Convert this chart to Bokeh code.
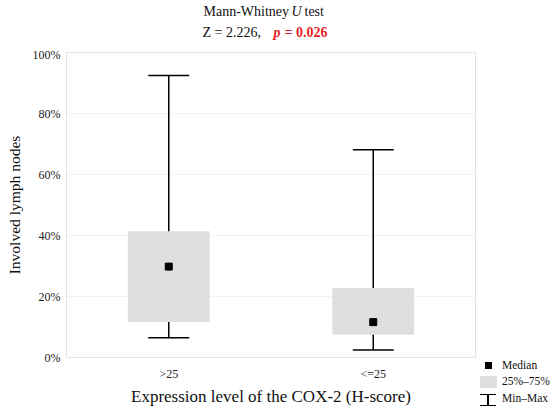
from bokeh.plotting import figure
from bokeh.layouts import column, row
from bokeh.models import ColumnDataSource, FixedTicker, PrintfTickFormatter, Range1d, Div
from bokeh.core.properties import value
from bokeh.embed import file_html
from bokeh.resources import INLINE

categories = [">25", "<=25"]
q_min = [6.5, 2.5]
q1 = [11.6, 7.5]
median = [29.8, 11.6]
q3 = [41.4, 22.8]
q_max = [92.5, 68.1]
y_ticks = [0, 20, 40, 60, 80, 100]

title_line1 = ["Mann-Whitney", "U", "test"]
title_line2 = ["Z = 2.226,", "p", "= 0.026"]
legend_labels = ["Median", "25%\u201375%", "Min\u2013Max"]

FONT = "Liberation Serif"
RED = "#e41e26"
BOX_GRAY = "#dedede"
pos = [i + 1 for i in range(len(categories))]

# ---------- title strip (coordinates = page pixels) ----------
t = figure(width=550, height=47, output_backend="svg", toolbar_location=None,
           x_range=Range1d(0, 550), y_range=Range1d(47, 0),
           x_axis_type=None, y_axis_type=None,
           min_border_left=0, min_border_right=0, min_border_top=0, min_border_bottom=0)
t.outline_line_color = None
t.xgrid.grid_line_color = None
t.ygrid.grid_line_color = None
t.text(x=[203, 291, 304], y=[11, 11, 11], text=title_line1,
       text_font=value(FONT), text_font_size="14px", text_color="#111111",
       text_font_style=["normal", "italic", "normal"], text_baseline="middle", text_align="left")
t.text(x=[202], y=[32], text=[title_line2[0]],
       text_font=value(FONT), text_font_size="14px", text_color="#111111",
       text_baseline="middle", text_align="left")
t.text(x=[273, 284], y=[32, 32], text=title_line2[1:],
       text_font=value(FONT), text_font_size="14px", text_color=RED,
       text_font_style=["bold italic", "bold"], text_baseline="middle", text_align="left")

# ---------- main box plot ----------
src = ColumnDataSource(dict(x=pos, q_min=q_min, q1=q1, med=median, q3=q3, q_max=q_max,
                            cl=[x - 0.1 for x in pos], cr=[x + 0.1 for x in pos]))

p = figure(width=476, height=365, output_backend="svg", toolbar_location=None,
           x_range=Range1d(0.5, 2.5), y_range=Range1d(0, 100),
           min_border_left=66, min_border_right=1, min_border_top=5, min_border_bottom=55)
p.background_fill_color = "white"
p.border_fill_color = "white"
p.outline_line_color = "#e3e3e3"
p.outline_line_width = 1

p.vbar(x="x", bottom="q1", top="q3", width=0.4, source=src, fill_color=BOX_GRAY, line_color=None)
p.segment(x0="x", y0="q_min", x1="x", y1="q1", source=src, line_color="black", line_width=1.5)
p.segment(x0="x", y0="q3", x1="x", y1="q_max", source=src, line_color="black", line_width=1.5)
p.segment(x0="cl", y0="q_min", x1="cr", y1="q_min", source=src, line_color="black", line_width=1.5)
p.segment(x0="cl", y0="q_max", x1="cr", y1="q_max", source=src, line_color="black", line_width=1.5)
p.scatter(x="x", y="med", source=src, marker="square", size=7, fill_color="black", line_color="black")

p.xaxis.ticker = FixedTicker(ticks=pos)
p.xaxis.major_label_overrides = {pp: c for pp, c in zip(pos, categories)}
p.yaxis.ticker = FixedTicker(ticks=y_ticks)
p.yaxis.formatter = PrintfTickFormatter(format="%d%%")
for ax in (p.xaxis[0], p.yaxis[0]):
    ax.axis_line_color = None
    ax.major_tick_line_color = None
    ax.minor_tick_line_color = None
    ax.major_tick_out = 0
    ax.major_tick_in = 0
    ax.major_label_text_font = FONT
    ax.major_label_text_font_size = "12px"
    ax.major_label_text_color = "#1a1a1a"
    ax.axis_label_text_font = FONT
    ax.axis_label_text_font_style = "normal"
    ax.axis_label_text_color = "#111111"
p.yaxis.major_label_standoff = 6
p.xaxis.major_label_standoff = 9
p.yaxis.axis_label = "Involved lymph nodes"
p.yaxis.axis_label_text_font_size = "15.5px"
p.yaxis.axis_label_standoff = 7
p.xaxis.axis_label = "Expression level of the COX-2 (H-score)"
p.xaxis.axis_label_text_font_size = "17px"
p.xaxis.axis_label_standoff = 3
p.xgrid.grid_line_color = None
p.ygrid.grid_line_color = "#f2f2f2"

# ---------- legend (HTML box to the right of the plot, page y offset 47) ----------
def box(left, top, w, h, color):
    return (f'<div style="position:absolute;left:{left}px;top:{top}px;width:{w}px;'
            f'height:{h}px;background:{color};"></div>')


def txt(left, center, s):
    return (f'<div style="position:absolute;left:{left}px;top:{center - 7}px;height:14px;'
            f'line-height:14px;white-space:nowrap;">{s}</div>')


oy = 47
items = [
    box(9, 362 - oy, 6.5, 6.5, "black"),
    box(4, 376 - oy, 17, 11.5, BOX_GRAY),
    box(4, 393.5 - oy, 16, 1.5, "black"),
    box(11.3, 393.5 - oy, 1.5, 12.5, "black"),
    box(4, 404.5 - oy, 16, 1.5, "black"),
    txt(26, 365 - oy, legend_labels[0]),
    txt(26, 380.5 - oy, legend_labels[1]),
    txt(26, 397.5 - oy, legend_labels[2]),
]
legend_html = (f'<div style="position:relative;width:74px;height:365px;'
               f'font-family:\'{FONT}\';font-size:11.5px;color:#111111;">' + "".join(items) + '</div>')
g = Div(text=legend_html, width=74, height=365, margin=0)

layout = column(t, row(p, g, spacing=0), spacing=0)
open("out.html", "w").write(file_html(layout, INLINE))
